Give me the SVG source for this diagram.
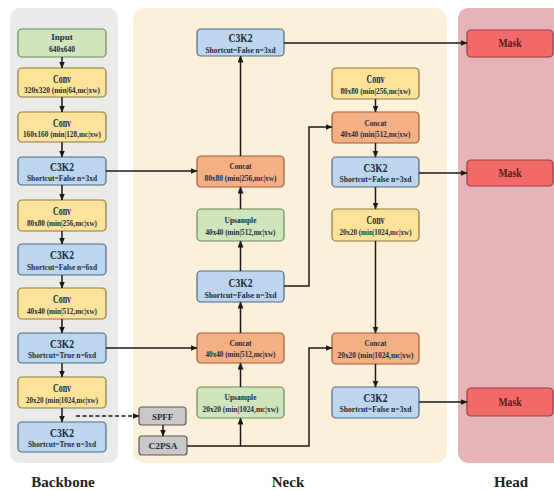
<svg xmlns="http://www.w3.org/2000/svg" width="554" height="491" viewBox="0 0 554 491">
<style>
.panel{stroke:none}
.n rect{stroke-width:1.2}
.g rect{fill:#cfe6bd;stroke:#6d8a5c}
.y rect{fill:#fde39a;stroke:#8c7a3c}
.b rect{fill:#bcd6ee;stroke:#4c6a88}
.o rect{fill:#f4b083;stroke:#9a5d3a}
.s rect{fill:#c9c9c9;stroke:#5a5a5a}
.r rect{fill:#f26a6a;stroke:#a03838}
.r text{fill:#5a1818}
text{font-family:"Liberation Serif","Times New Roman",serif;font-weight:bold;fill:#1e2a40;text-anchor:middle}
.t{font-size:12px}
.tm{font-size:9px}
.sub{font-size:7.5px}
.lbl{font-size:15px;fill:#222}
.c path{fill:none;stroke:#1a1a1a;stroke-width:1.5}
.c .d{stroke-dasharray:4 2.5}
</style>
<defs>
<marker id="ah" markerWidth="7" markerHeight="6" refX="6.5" refY="3" orient="auto" markerUnits="userSpaceOnUse">
<path d="M0,0 L7,3 L0,6 Z" fill="#1a1a1a"/>
</marker>
</defs>
<rect class="panel" x="10" y="8" width="108" height="455" rx="10" fill="#eaeae8"/>
<rect class="panel" x="133" y="8" width="314" height="455" rx="12" fill="#fcf0db"/>
<rect class="panel" x="458" y="8" width="106" height="455" rx="10" fill="#e5b4b8"/>

<g id="backbone">
<g id="b_input" class="n g"><rect x="18" y="29" width="88" height="28" rx="4"/><text class="tm" x="62" y="40">Input</text><text class="tm" x="62" y="52" textLength="26" lengthAdjust="spacingAndGlyphs">640x640</text></g>
<g id="b_conv1" class="n y"><rect x="18" y="68" width="88" height="29" rx="4"/><text class="t" x="62" y="83" textLength="18" lengthAdjust="spacingAndGlyphs">Conv</text><text class="sub" x="62" y="93" textLength="76" lengthAdjust="spacingAndGlyphs">320x320 (min|64,mc|xw)</text></g>
<g id="b_conv2" class="n y"><rect x="18" y="112" width="88" height="30" rx="4"/><text class="t" x="62" y="127" textLength="18" lengthAdjust="spacingAndGlyphs">Conv</text><text class="sub" x="62" y="137" textLength="78" lengthAdjust="spacingAndGlyphs">160x160 (min|128,mc|xw)</text></g>
<g id="b_c3k2_1" class="n b"><rect x="18" y="157" width="88" height="28" rx="4"/><text class="t" x="62" y="171" textLength="24" lengthAdjust="spacingAndGlyphs">C3K2</text><text class="sub" x="62" y="181" textLength="70" lengthAdjust="spacingAndGlyphs">Shortcut=False n=3xd</text></g>
<g id="b_conv3" class="n y"><rect x="18" y="200" width="88" height="31" rx="4"/><text class="t" x="62" y="215" textLength="18" lengthAdjust="spacingAndGlyphs">Conv</text><text class="sub" x="62" y="226" textLength="70" lengthAdjust="spacingAndGlyphs">80x80 (min|256,mc|xw)</text></g>
<g id="b_c3k2_2" class="n b"><rect x="18" y="244" width="88" height="31" rx="4"/><text class="t" x="62" y="259" textLength="24" lengthAdjust="spacingAndGlyphs">C3K2</text><text class="sub" x="62" y="270" textLength="70" lengthAdjust="spacingAndGlyphs">Shortcut=False n=6xd</text></g>
<g id="b_conv4" class="n y"><rect x="18" y="288" width="88" height="31" rx="4"/><text class="t" x="62" y="303" textLength="18" lengthAdjust="spacingAndGlyphs">Conv</text><text class="sub" x="62" y="314" textLength="70" lengthAdjust="spacingAndGlyphs">40x40 (min|512,mc|xw)</text></g>
<g id="b_c3k2_3" class="n b"><rect x="18" y="333" width="88" height="30" rx="4"/><text class="t" x="62" y="348" textLength="24" lengthAdjust="spacingAndGlyphs">C3K2</text><text class="sub" x="62" y="358" textLength="68" lengthAdjust="spacingAndGlyphs">Shortcut=True n=6xd</text></g>
<g id="b_conv5" class="n y"><rect x="18" y="377" width="88" height="31" rx="4"/><text class="t" x="62" y="392" textLength="18" lengthAdjust="spacingAndGlyphs">Conv</text><text class="sub" x="62" y="403" textLength="72" lengthAdjust="spacingAndGlyphs">20x20 (min|1024,mc|xw)</text></g>
<g id="b_c3k2_4" class="n b"><rect x="18" y="422" width="88" height="30" rx="4"/><text class="t" x="62" y="437" textLength="24" lengthAdjust="spacingAndGlyphs">C3K2</text><text class="sub" x="62" y="447" textLength="68" lengthAdjust="spacingAndGlyphs">Shortcut=True n=3xd</text></g>
</g>

<g id="neck">
<g id="n_c3k2_top" class="n b"><rect x="197" y="29" width="87" height="27" rx="4"/><text class="t" x="240.5" y="42" textLength="24" lengthAdjust="spacingAndGlyphs">C3K2</text><text class="sub" x="240.5" y="53" textLength="70" lengthAdjust="spacingAndGlyphs">Shortcut=False n=3xd</text></g>
<g id="n_concat80" class="n o"><rect x="197" y="156" width="87" height="31" rx="4"/><text class="tm" x="240.5" y="169" textLength="22" lengthAdjust="spacingAndGlyphs">Concat</text><text class="sub" x="240.5" y="181" textLength="72" lengthAdjust="spacingAndGlyphs">80x80 (min|256,mc|xw)</text></g>
<g id="n_up40" class="n g"><rect x="197" y="209" width="87" height="32" rx="4"/><text class="tm" x="240.5" y="223" textLength="32" lengthAdjust="spacingAndGlyphs">Upsample</text><text class="sub" x="240.5" y="235" textLength="70" lengthAdjust="spacingAndGlyphs">40x40 (min|512,mc|xw)</text></g>
<g id="n_c3k2_mid" class="n b"><rect x="197" y="271" width="87" height="31" rx="4"/><text class="t" x="240.5" y="287" textLength="24" lengthAdjust="spacingAndGlyphs">C3K2</text><text class="sub" x="240.5" y="298" textLength="72" lengthAdjust="spacingAndGlyphs">Shortcut=False n=3xd</text></g>
<g id="n_concat40a" class="n o"><rect x="197" y="333" width="87" height="30" rx="4"/><text class="tm" x="240.5" y="346" textLength="22" lengthAdjust="spacingAndGlyphs">Concat</text><text class="sub" x="240.5" y="357" textLength="70" lengthAdjust="spacingAndGlyphs">40x40 (min|512,mc|xw)</text></g>
<g id="n_up20" class="n g"><rect x="197" y="387" width="87" height="31" rx="4"/><text class="tm" x="240.5" y="400" textLength="32" lengthAdjust="spacingAndGlyphs">Upsample</text><text class="sub" x="240.5" y="412" textLength="76" lengthAdjust="spacingAndGlyphs">20x20 (min|1024,mc|xw)</text></g>
<g id="n_spff" class="n s"><rect x="139" y="407" width="47" height="18" rx="3"/><text class="tm" x="162.5" y="420" textLength="21" lengthAdjust="spacingAndGlyphs">SPFF</text></g>
<g id="n_c2psa" class="n s"><rect x="139" y="436" width="48" height="19" rx="3"/><text class="tm" x="163" y="449" textLength="29" lengthAdjust="spacingAndGlyphs">C2PSA</text></g>
<g id="n_conv80" class="n y"><rect x="332" y="68" width="87" height="31" rx="4"/><text class="t" x="375.5" y="83" textLength="18" lengthAdjust="spacingAndGlyphs">Conv</text><text class="sub" x="375.5" y="94" textLength="70" lengthAdjust="spacingAndGlyphs">80x80 (min|256,mc|xw)</text></g>
<g id="n_concat40b" class="n o"><rect x="332" y="112" width="87" height="31" rx="4"/><text class="tm" x="375.5" y="126" textLength="22" lengthAdjust="spacingAndGlyphs">Concat</text><text class="sub" x="375.5" y="137" textLength="70" lengthAdjust="spacingAndGlyphs">40x40 (min|512,mc|xw)</text></g>
<g id="n_c3k2_r1" class="n b"><rect x="332" y="157" width="87" height="30" rx="4"/><text class="t" x="375.5" y="172" textLength="24" lengthAdjust="spacingAndGlyphs">C3K2</text><text class="sub" x="375.5" y="182" textLength="72" lengthAdjust="spacingAndGlyphs">Shortcut=False n=3xd</text></g>
<g id="n_conv20" class="n y"><rect x="332" y="209" width="87" height="32" rx="4"/><text class="t" x="375.5" y="224" textLength="18" lengthAdjust="spacingAndGlyphs">Conv</text><text class="sub" x="375.5" y="235" textLength="72" lengthAdjust="spacingAndGlyphs">20x20 (min|1024,mc|xw)</text></g>
<g id="n_concat20" class="n o"><rect x="332" y="333" width="87" height="31" rx="4"/><text class="tm" x="375.5" y="346" textLength="22" lengthAdjust="spacingAndGlyphs">Concat</text><text class="sub" x="375.5" y="358" textLength="76" lengthAdjust="spacingAndGlyphs">20x20 (min|1024,mc|xw)</text></g>
<g id="n_c3k2_r2" class="n b"><rect x="332" y="387" width="87" height="31" rx="4"/><text class="t" x="375.5" y="402" textLength="24" lengthAdjust="spacingAndGlyphs">C3K2</text><text class="sub" x="375.5" y="412" textLength="72" lengthAdjust="spacingAndGlyphs">Shortcut=False n=3xd</text></g>
</g>

<g id="head">
<g id="h_mask1" class="n r"><rect x="467" y="30" width="86" height="27" rx="4"/><text class="t" x="510" y="47" textLength="23" lengthAdjust="spacingAndGlyphs">Mask</text></g>
<g id="h_mask2" class="n r"><rect x="467" y="160" width="86" height="26" rx="4"/><text class="t" x="510" y="177" textLength="23" lengthAdjust="spacingAndGlyphs">Mask</text></g>
<g id="h_mask3" class="n r"><rect x="467" y="388" width="86" height="28" rx="4"/><text class="t" x="510" y="406" textLength="23" lengthAdjust="spacingAndGlyphs">Mask</text></g>
</g>

<g id="connectors" class="c">
<path d="M62,57 V68" marker-end="url(#ah)"/>
<path d="M62,97 V112" marker-end="url(#ah)"/>
<path d="M62,142 V157" marker-end="url(#ah)"/>
<path d="M62,185 V200" marker-end="url(#ah)"/>
<path d="M62,231 V244" marker-end="url(#ah)"/>
<path d="M62,275 V288" marker-end="url(#ah)"/>
<path d="M62,319 V333" marker-end="url(#ah)"/>
<path d="M62,363 V377" marker-end="url(#ah)"/>
<path d="M62,408 V422" marker-end="url(#ah)"/>
<path d="M106,171 H197" marker-end="url(#ah)"/>
<path d="M106,348 H197" marker-end="url(#ah)"/>
<path class="d" d="M76,416 H139" marker-end="url(#ah)"/>
<path d="M163,425 V436" marker-end="url(#ah)"/>
<path d="M187,446 H309 V348 H332" marker-end="url(#ah)"/>
<path d="M240.5,446 V418" marker-end="url(#ah)"/>
<path d="M240.5,387 V363" marker-end="url(#ah)"/>
<path d="M240.5,333 V302" marker-end="url(#ah)"/>
<path d="M240.5,271 V241" marker-end="url(#ah)"/>
<path d="M240.5,209 V187" marker-end="url(#ah)"/>
<path d="M240.5,156 V56" marker-end="url(#ah)"/>
<path d="M284,286 H309 V127 H332" marker-end="url(#ah)"/>
<path d="M284,43 H467" marker-end="url(#ah)"/>
<path d="M375.5,99 V112" marker-end="url(#ah)"/>
<path d="M375.5,143 V157" marker-end="url(#ah)"/>
<path d="M375.5,187 V209" marker-end="url(#ah)"/>
<path d="M375.5,241 V333" marker-end="url(#ah)"/>
<path d="M375.5,364 V387" marker-end="url(#ah)"/>
<path d="M419,173 H467" marker-end="url(#ah)"/>
<path d="M419,402 H467" marker-end="url(#ah)"/>
</g>

<text class="lbl" x="63" y="487">Backbone</text>
<text class="lbl" x="288" y="487">Neck</text>
<text class="lbl" x="511" y="487">Head</text>
</svg>
